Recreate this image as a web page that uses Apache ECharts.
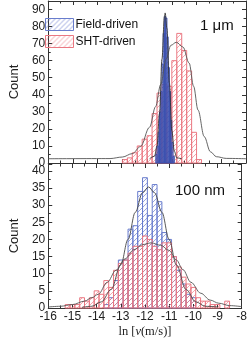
<!DOCTYPE html>
<html>
<head>
<meta charset="utf-8">
<script src="https://cdn.jsdelivr.net/npm/echarts@6/dist/echarts.min.js"></script>
<style>
html,body{margin:0;padding:0;background:#fff;}
#chart{width:250px;height:340px;}
</style>
</head>
<body>
<div id="chart"></div>
<script>
// ---------- DATA ----------
const xTicks = [-16, -15, -14, -13, -12, -11, -10, -9, -8];
const legendNames = ['Field-driven', 'SHT-driven'];
const panelLabels = ['1 μm', '100 nm'];

// Top panel (1 μm)
const topRedBinWidth = 0.2;
const topRedCenters = [-12.9, -12.7, -12.5, -12.3, -12.1, -11.9, -11.7, -11.5, -11.3, -11.1, -10.9, -10.7, -10.5, -10.3, -10.1, -9.9];
const topRedCounts  = [2, 3, 6, 10, 14, 16, 29, 41, 46, 45, 60, 76, 66, 54, 18, 2];
const topBlueBinWidth = 0.05;
const topBlueCenters = [-11.625, -11.575, -11.525, -11.475, -11.425, -11.375, -11.325, -11.275, -11.225, -11.175, -11.125, -11.075, -11.025, -10.975, -10.925];
const topBlueCounts  = [5, 10, 18, 30, 42, 58, 76, 86, 85, 74, 56, 42, 25, 12, 4];
const topBlueFitX = [-11.9, -11.7, -11.6, -11.5, -11.4, -11.3, -11.27, -11.2, -11.1, -11.0, -10.9, -10.8, -10.6];
const topBlueFitY = [2.5, 4, 10, 29, 61, 86, 88, 79, 47, 19, 7, 3, 2.5];
const topRedFitX = [-16, -13.5, -13.0, -12.6, -12.27, -11.9, -11.66, -11.45, -11.23, -11.04, -10.82, -10.55, -10.3, -10.12, -9.94, -9.69, -9.44, -9.2, -8.8, -8];
const topRedFitY = [2.5, 2.6, 3.5, 5.5, 9.6, 21, 33, 46, 61, 69, 70.8, 68, 58.6, 45, 31, 15.5, 6.6, 3.7, 2.7, 2.5];

// Bottom panel (100 nm)
const botBinWidth = 0.2;
const botBlueCenters = [-13.6, -13.4, -13.2, -13.0, -12.8, -12.6, -12.4, -12.2, -12.0, -11.8, -11.6, -11.4, -11.2, -11.0, -10.8, -10.6, -10.4, -10.2, -10.0];
const botBlueCounts  = [1, 3, 8, 14, 14, 23, 24, 34, 38, 27, 36, 31, 22, 20, 15, 11, 7, 4, 3];
const botRedCenters = [-15.2, -15.0, -14.8, -14.6, -14.4, -14.2, -14.0, -13.8, -13.6, -13.4, -13.2, -13.0, -12.8, -12.6, -12.4, -12.2, -12.0, -11.8, -11.6, -11.4, -11.2, -11.0, -10.8, -10.6, -10.4, -10.2, -10.0, -9.8, -9.6, -9.4, -9.2, -9.0, -8.8, -8.6];
const botRedCounts  = [1, 1, 1, 3, 2, 3, 5, 4, 8, 6, 11, 13, 14, 16, 18, 18, 21, 20, 18, 17, 19, 19, 15, 12, 9, 7, 6, 3, 2, 2, 1, 1, 0, 2];
const botBlueFitX = [-14.6, -14.2, -13.8, -13.4, -13.0, -12.7, -12.4, -12.1, -11.85, -11.6, -11.3, -11.0, -10.7, -10.3, -9.9, -9.5, -9.0];
const botBlueFitY = [0.2, 0.5, 1.8, 5.4, 12.6, 20, 27.9, 33.6, 35.3, 33.6, 27.9, 20, 12.6, 5.4, 1.8, 0.5, 0.3];
const botRedFitX = [-16, -15.5, -15, -14.5, -14.2, -13.93, -13.56, -13.2, -12.83, -12.46, -12.09, -11.75, -11.35, -11.0, -10.7, -10.43, -10.1, -9.69, -9.3, -8.95, -8.5, -8];
const botRedFitY = [0.3, 0.5, 1, 2, 3, 4, 7.5, 11, 14.3, 17, 18.5, 19, 18.3, 16.8, 14, 11.2, 7.5, 4.3, 2.3, 1.4, 0.7, 0.4];

// ---------- STYLE HELPERS ----------
const RED_EDGE = 'rgb(234,120,130)';
const RED_HATCH = 'rgba(236,110,122,0.6)';
const BLUE_EDGE = 'rgb(105,125,205)';
const BLUE_HATCH = 'rgba(85,105,200,0.6)';
const FONT = 'Liberation Sans, Arial, sans-serif';

function hatch(color) {
  const s = 5;
  const c = document.createElement('canvas');
  c.width = s; c.height = s;
  const g = c.getContext('2d');
  g.strokeStyle = color;
  g.lineWidth = 1;
  g.beginPath();
  g.moveTo(0, s); g.lineTo(s, 0);
  g.moveTo(-1, 1); g.lineTo(1, -1);
  g.moveTo(s - 1, s + 1); g.lineTo(s + 1, s - 1);
  g.stroke();
  return { image: c, repeat: 'repeat' };
}
const redPattern = hatch(RED_HATCH);
const bluePattern = hatch(BLUE_HATCH);

function histSeries(name, gi, centers, counts, binW, edge, pattern, z) {
  return {
    name: name, type: 'custom', xAxisIndex: gi * 2, yAxisIndex: gi * 2,
    coordinateSystem: 'cartesian2d', z: z, silent: true,
    encode: { x: 0, y: 1 },
    itemStyle: { color: pattern, borderColor: edge },
    data: centers.map((c, i) => [c, counts[i]]),
    renderItem: function (params, api) {
      const x = api.value(0), y = api.value(1);
      if (!y) return null;
      const p0 = api.coord([x - binW / 2, y]);
      const p1 = api.coord([x + binW / 2, 0]);
      return {
        type: 'rect',
        shape: { x: p0[0], y: p0[1], width: p1[0] - p0[0], height: p1[1] - p0[1] },
        style: { fill: pattern, stroke: edge, lineWidth: 1 }
      };
    }
  };
}
function fitSeries(gi, xs, ys, color, z) {
  return {
    type: 'line', xAxisIndex: gi * 2, yAxisIndex: gi * 2, z: z, silent: true,
    symbol: 'none', smooth: 0.35, smoothMonotone: 'x',
    lineStyle: { color: color, width: 0.9 },
    data: xs.map((x, i) => [x, ys[i]])
  };
}

const grids = [
  { left: 29, right: 4, top: 1, height: 162 },
  { left: 29, right: 4, top: 164, height: 144 }
];
const yMax = [95, 42];
const yInt = [10, 5];

const xAxes = [], yAxes = [];
grids.forEach((g, gi) => {
  const bottomLabels = gi === 1;
  xAxes.push({
    type: 'value', gridIndex: gi, min: xTicks[0], max: xTicks[xTicks.length - 1], interval: 1,
    position: 'bottom',
    axisLine: { show: true, onZero: false, lineStyle: { color: '#333', width: 1 } },
    axisTick: { show: true, inside: true, length: 4, lineStyle: { color: '#333' } },
    minorTick: { show: true, splitNumber: 2, length: 2.5, lineStyle: { color: '#333' } },
    splitLine: { show: false },
    axisLabel: { show: bottomLabels, margin: 3, fontSize: 12, color: '#222', fontFamily: FONT },
    name: bottomLabels ? '{n|ln [}{v|v}{n|(m/s)]}' : '',
    nameLocation: 'middle', nameGap: 17,
    nameTextStyle: {
      rich: {
        n: { fontFamily: 'Liberation Serif, Times New Roman, serif', fontSize: 12.5, color: '#222' },
        v: { fontFamily: 'Liberation Serif, Times New Roman, serif', fontStyle: 'italic', fontSize: 12.5, color: '#222' }
      }
    }
  });
  xAxes.push({
    type: 'value', gridIndex: gi, min: xTicks[0], max: xTicks[xTicks.length - 1], interval: 1,
    position: 'top',
    axisLine: { show: gi === 0, onZero: false, lineStyle: { color: '#333', width: 1 } },
    axisTick: { show: true, inside: true, length: 4, lineStyle: { color: '#333' } },
    minorTick: { show: true, splitNumber: 2, length: 2.5, lineStyle: { color: '#333' } },
    splitLine: { show: false }, axisLabel: { show: false }
  });
  yAxes.push({
    type: 'value', gridIndex: gi, min: 0, max: yMax[gi], interval: yInt[gi], position: 'left',
    axisLine: { show: true, onZero: false, lineStyle: { color: '#333', width: 1 } },
    axisTick: { show: true, inside: true, length: 4, lineStyle: { color: '#333' } },
    minorTick: { show: true, splitNumber: 2, length: 2.5, lineStyle: { color: '#333' } },
    splitLine: { show: false },
    axisLabel: {
      margin: 3, fontSize: 12, color: '#222', fontFamily: FONT,
      formatter: v => (v % yInt[gi] === 0 && v <= yMax[gi] - 1 ? String(v) : '')
    },
    name: 'Count', nameLocation: 'middle', nameGap: 15.5,
    nameTextStyle: { fontSize: 13, color: '#222', fontFamily: FONT }
  });
  yAxes.push({
    type: 'value', gridIndex: gi, min: 0, max: yMax[gi], interval: yInt[gi], position: 'right',
    axisLine: { show: true, onZero: false, lineStyle: { color: '#333', width: 1 } },
    axisTick: { show: true, inside: true, length: 4, lineStyle: { color: '#333' } },
    minorTick: { show: true, splitNumber: 2, length: 2.5, lineStyle: { color: '#333' } },
    splitLine: { show: false }, axisLabel: { show: false }
  });
});

const series = [
  histSeries(legendNames[1], 0, topRedCenters, topRedCounts, topRedBinWidth, RED_EDGE, redPattern, 2),
  histSeries(legendNames[0], 0, topBlueCenters, topBlueCounts, topBlueBinWidth, 'rgb(60,80,175)', bluePattern, 3),
  fitSeries(0, topRedFitX, topRedFitY, '#555', 5),
  fitSeries(0, topBlueFitX, topBlueFitY, '#333', 6),
  histSeries(legendNames[0], 1, botBlueCenters, botBlueCounts, botBinWidth, BLUE_EDGE, bluePattern, 2),
  histSeries(legendNames[1], 1, botRedCenters, botRedCounts, botBinWidth, RED_EDGE, redPattern, 3),
  fitSeries(1, botBlueFitX, botBlueFitY, '#444', 5),
  fitSeries(1, botRedFitX, botRedFitY, '#555', 6)
];

const chart = echarts.init(document.getElementById('chart'), null, { renderer: 'canvas' });
chart.setOption({
  animation: false,
  backgroundColor: '#fff',
  grid: grids,
  xAxis: xAxes,
  yAxis: yAxes,
  legend: {
    orient: 'vertical', left: 40, top: 13, itemWidth: 28, itemHeight: 12, itemGap: 4,
    icon: 'rect', selectedMode: false,
    textStyle: { fontSize: 12, color: '#111', fontFamily: FONT, padding: [0, 0, 0, -3] },
    data: [
      { name: legendNames[0], itemStyle: { color: bluePattern, borderColor: BLUE_EDGE, borderWidth: 1 } },
      { name: legendNames[1], itemStyle: { color: redPattern, borderColor: RED_EDGE, borderWidth: 1 } }
    ]
  },
  graphic: [
    { type: 'text', left: 200, top: 18, style: { text: panelLabels[0], fontSize: 15, fill: '#111', fontFamily: FONT } },
    { type: 'text', left: 175, top: 183, style: { text: panelLabels[1], fontSize: 15, fill: '#111', fontFamily: FONT } }
  ],
  series: series
});
</script>
</body>
</html>
